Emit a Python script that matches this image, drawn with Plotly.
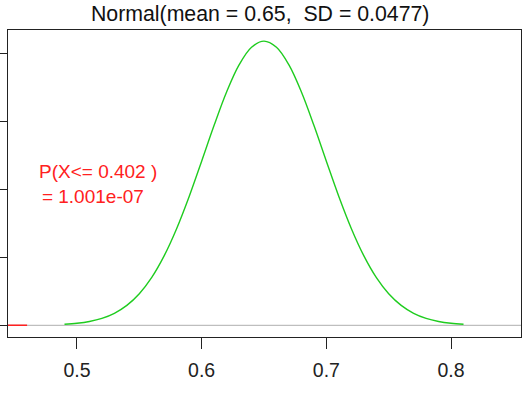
import plotly.graph_objects as go

# Density curve values
curve_x = [0.49, 0.50, 0.51, 0.52, 0.53, 0.54, 0.55, 0.56, 0.57, 0.58, 0.59, 0.60,
           0.61, 0.62, 0.63, 0.64, 0.65, 0.66, 0.67, 0.68, 0.69, 0.70, 0.71, 0.72,
           0.73, 0.74, 0.75, 0.76, 0.77, 0.78, 0.79, 0.80, 0.81]
curve_y = [0.030, 0.060, 0.113, 0.204, 0.353, 0.586, 0.929, 1.410, 2.050, 2.850,
           3.791, 4.829, 5.884, 6.864, 7.661, 8.182, 8.364, 8.182, 7.661, 6.864,
           5.884, 4.829, 3.791, 2.850, 2.050, 1.410, 0.929, 0.586, 0.353, 0.204,
           0.113, 0.060, 0.030]

# Red lower tail segment
tail_x = [0.43, 0.46]
tail_y = [0.0, 0.0]

x_ticks = [0.5, 0.6, 0.7, 0.8]
x_tick_labels = ["0.5", "0.6", "0.7", "0.8"]
y_ticks = [0, 2, 4, 6, 8]

title_text = "Normal(mean = 0.65,\u00a0\u00a0SD = 0.0477)"
prob_text = "P(X<= 0.402 )<br>= 1.001e-07\u00a0\u00a0"

fig = go.Figure()
fig.add_trace(go.Scatter(x=curve_x, y=curve_y, mode="lines",
                         line=dict(color="#1FCC1F", width=1.4, shape="spline"),
                         hoverinfo="skip", showlegend=False))
fig.add_trace(go.Scatter(x=tail_x, y=tail_y, mode="lines",
                         line=dict(color="#FF2020", width=1.4),
                         hoverinfo="skip", showlegend=False))

fig.add_shape(type="line", xref="paper", yref="y", x0=0, x1=1, y0=0, y1=0,
              line=dict(color="#BEBEBE", width=1.2), layer="below")

fig.add_annotation(x=0.5165, y=4.15, xref="x", yref="y", text=prob_text,
                   showarrow=False, align="center", xanchor="center", yanchor="middle",
                   font=dict(family="Liberation Sans, Arial", size=19, color="#FF2020"))

fig.update_layout(
    width=531, height=393,
    margin=dict(l=8, r=10, t=30, b=56, autoexpand=False),
    paper_bgcolor="white", plot_bgcolor="white",
    title=dict(text=title_text, x=0.49, xanchor="center", y=1 - 14 / 393, yanchor="middle",
               font=dict(family="Liberation Sans, Arial", size=21.3, color="#111")),
    font=dict(family="Liberation Sans, Arial", size=19.5, color="#222"),
    xaxis=dict(range=[0.4447, 0.8561], tickvals=x_ticks, ticktext=x_tick_labels,
               automargin=False,
               showgrid=False, zeroline=False, showline=True, mirror=True,
               linecolor="#222", linewidth=1.2, ticks="outside", ticklen=11,
               tickcolor="#222", tickwidth=1.2, ticklabelstandoff=4),
    yaxis=dict(range=[-0.345, 8.69], tickvals=y_ticks, showticklabels=False,
               automargin=False,
               showgrid=False, zeroline=False, showline=True, mirror=True,
               linecolor="#222", linewidth=1.2, ticks="outside", ticklen=8,
               tickcolor="#222", tickwidth=1.2),
)

fig.write_html("out.html", config={"displayModeBar": False},
               post_script="document.body.style.margin='0';document.body.style.overflow='hidden';")
